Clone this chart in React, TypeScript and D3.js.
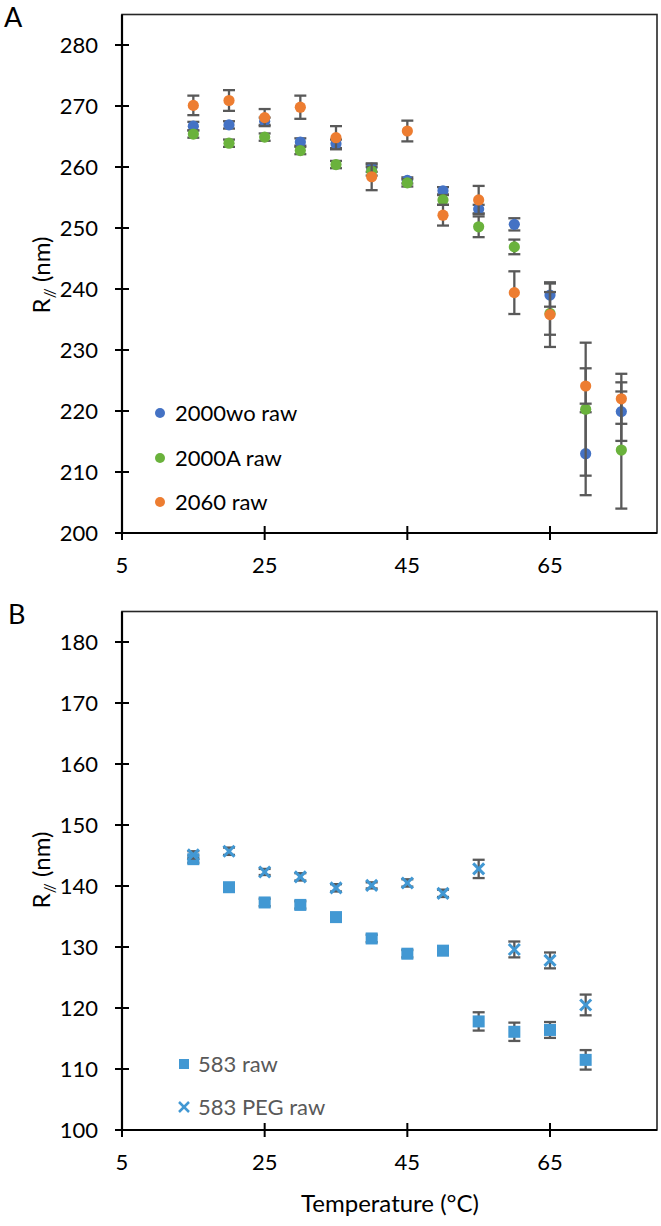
import React from 'react';
import * as d3 from 'd3';

// ---------- Panel A data ----------
const tempsA = [15, 20, 25, 30, 35, 40, 45, 50, 55, 60, 65, 70, 75];
const woRaw = [266.7, 266.9, 267.5, 264.1, 263.8, 259.8, 257.8, 256.1, 253.1, 250.6, 239.0, 213.0, 219.9];
const woErr = [0.7, 0.6, 0.6, 0.6, 0.7, 0.6, 0.5, 0.6, 0.7, 1.0, 1.9, 6.8, 4.8];
const aRaw = [265.4, 263.9, 264.9, 262.7, 260.4, 259.3, 257.4, 254.6, 250.2, 246.9, 236.0, 220.3, 213.6];
const aErr = [0.6, 0.6, 0.6, 0.6, 0.6, 0.7, 0.6, 0.8, 1.7, 1.2, 3.5, 10.9, 9.6];
const oRaw = [270.1, 270.9, 268.1, 269.8, 264.8, 258.4, 265.9, 252.1, 254.6, 239.4, 235.8, 224.1, 222.0];
const oErr = [1.6, 1.7, 1.4, 1.9, 1.9, 2.2, 1.7, 1.7, 2.3, 3.5, 5.3, 2.9, 4.1];
const seriesNamesA = ['2000wo raw', '2000A raw', '2060 raw'];
const ticksYA = [200, 210, 220, 230, 240, 250, 260, 270, 280];

// ---------- Panel B data ----------
const tempsB = [15, 20, 25, 30, 35, 40, 45, 50, 55, 60, 65, 70];
const bRaw = [144.4, 139.8, 137.3, 136.9, 134.9, 131.4, 128.9, 129.4, 117.8, 116.1, 116.4, 111.5];
const bRawErr = [0.6, 0.6, 0.6, 0.6, 0.6, 0.6, 0.6, 0.7, 1.5, 1.5, 1.3, 1.6];
const bPeg = [145.1, 145.7, 142.3, 141.5, 139.7, 140.1, 140.5, 138.8, 142.8, 129.6, 127.8, 120.5];
const bPegErr = [0.6, 0.6, 0.5, 0.6, 0.6, 0.5, 0.6, 0.6, 1.5, 1.3, 1.3, 1.7];
const seriesNamesB = ['583 raw', '583 PEG raw'];
const ticksYB = [100, 110, 120, 130, 140, 150, 160, 170, 180];

const ticksX = [5, 25, 45, 65];

const COLORS = { blue: '#4472C4', green: '#6AB23C', orange: '#ED7D31', light: '#4298D3' };
const ERR = '#595959';
const FONT = "Lato, 'Open Sans', sans-serif";

type Ser = { vals: number[]; errs: number[]; temps: number[] };

function ErrorBars({ s, x, y }: { s: Ser; x: any; y: any }) {
  return (
    <g stroke={ERR} strokeWidth={2.3} fill="none">
      {s.vals.map((v, i) => {
        const cx = x(s.temps[i]);
        const y1 = y(v + s.errs[i]);
        const y2 = y(v - s.errs[i]);
        return (
          <g key={i}>
            <line x1={cx} x2={cx} y1={y1} y2={y2} />
            <line x1={cx - 6} x2={cx + 6} y1={y1} y2={y1} />
            <line x1={cx - 6} x2={cx + 6} y1={y2} y2={y2} />
          </g>
        );
      })}
    </g>
  );
}

function Frame({ x, y, yTicks, top, bottom, label, labelY }: any) {
  const left = x.range()[0];
  const right = x.range()[1];
  return (
    <g fontFamily={FONT}>
      <rect x={left} y={top} width={right - left} height={bottom - top} fill="none" stroke="#262626" strokeWidth={1.6} />
      <line x1={left} x2={left} y1={top} y2={bottom} stroke="#000" strokeWidth={2.2} />
      <line x1={left} x2={right} y1={bottom} y2={bottom} stroke="#000" strokeWidth={2.2} />
      {yTicks.map((t: number) => (
        <g key={'y' + t}>
          <line x1={left - 7} x2={left + 7} y1={y(t)} y2={y(t)} stroke="#000" strokeWidth={2} />
          <text x={left - 24} y={y(t)} dy="0.35em" textAnchor="end" fontSize={22} fill="#000">{t}</text>
        </g>
      ))}
      {ticksX.map((t) => (
        <g key={'x' + t}>
          <line x1={x(t)} x2={x(t)} y1={bottom - 7} y2={bottom + 7} stroke="#000" strokeWidth={2} />
          <text x={x(t)} y={bottom + 40} textAnchor="middle" fontSize={22} fill="#000">{t}</text>
        </g>
      ))}
      <text transform={`translate(50,${labelY}) rotate(-90)`} textAnchor="middle" fontSize={24} fill="#000">
        R<tspan fontSize={15} dy={5}>//</tspan><tspan dy={-5}> (nm)</tspan>
      </text>
      <text x={label === 'A' ? 4 : 8} y={label === 'A' ? 27 : 624} fontSize={27} fill="#000">{label}</text>
    </g>
  );
}

export default function App() {
  const x = d3.scaleLinear().domain([5, 80]).range([122, 657]);
  const yA = d3.scaleLinear().domain([200, 285]).range([533, 14.5]);
  const yB = d3.scaleLinear().domain([100, 185]).range([1130, 611.5]);

  const serA: (Ser & { color: string })[] = [
    { vals: woRaw, errs: woErr, temps: tempsA, color: COLORS.blue },
    { vals: aRaw, errs: aErr, temps: tempsA, color: COLORS.green },
    { vals: oRaw, errs: oErr, temps: tempsA, color: COLORS.orange },
  ];
  const serB: Ser[] = [
    { vals: bRaw, errs: bRawErr, temps: tempsB },
    { vals: bPeg, errs: bPegErr, temps: tempsB },
  ];

  const legendA = [413, 458, 502];
  const legendB = [1064, 1107];

  return (
    <svg width={661} height={1226} style={{ position: 'absolute', left: 0, top: 0, background: '#fff' }}>
      <rect x={0} y={0} width={661} height={1226} fill="#fff" />
      {/* Panel A */}
      <Frame x={x} y={yA} yTicks={ticksYA} top={14.5} bottom={533} label="A" labelY={275} />
      {serA.map((s, k) => (
        <g key={k}>
          <ErrorBars s={s} x={x} y={yA} />
          {s.vals.map((v, i) => (
            <circle key={i} cx={x(s.temps[i])} cy={yA(v)} r={5.6} fill={s.color} />
          ))}
        </g>
      ))}
      <g fontFamily={FONT}>
        {seriesNamesA.map((n, i) => (
          <g key={n}>
            <circle cx={160} cy={legendA[i]} r={5} fill={serA[i].color} />
            <text x={175} y={legendA[i]} dy="0.35em" fontSize={22} fill="#000">{n}</text>
          </g>
        ))}
      </g>

      {/* Panel B */}
      <Frame x={x} y={yB} yTicks={ticksYB} top={611.5} bottom={1130} label="B" labelY={870} />
      {serB.map((s, k) => (
        <g key={k}>
          <ErrorBars s={s} x={x} y={yB} />
          {s.vals.map((v, i) => {
            const cx = x(s.temps[i]);
            const cy = yB(v);
            return k === 0 ? (
              <rect key={i} x={cx - 6} y={cy - 6} width={12} height={12} fill={COLORS.light} />
            ) : (
              <g key={i} stroke={COLORS.light} strokeWidth={3}>
                <line x1={cx - 5.5} x2={cx + 5.5} y1={cy - 5.5} y2={cy + 5.5} />
                <line x1={cx - 5.5} x2={cx + 5.5} y1={cy + 5.5} y2={cy - 5.5} />
              </g>
            );
          })}
        </g>
      ))}
      <g fontFamily={FONT}>
        <rect x={179} y={legendB[0] - 5} width={10} height={10} fill={COLORS.light} />
        <g stroke={COLORS.light} strokeWidth={2.5}>
          <line x1={179} x2={189} y1={legendB[1] - 5} y2={legendB[1] + 5} />
          <line x1={179} x2={189} y1={legendB[1] + 5} y2={legendB[1] - 5} />
        </g>
        {seriesNamesB.map((n, i) => (
          <text key={n} x={198} y={legendB[i]} dy="0.35em" fontSize={22} fill="#595959">{n}</text>
        ))}
        <text x={390} y={1212} textAnchor="middle" fontSize={24} fill="#000">Temperature (°C)</text>
      </g>
    </svg>
  );
}
